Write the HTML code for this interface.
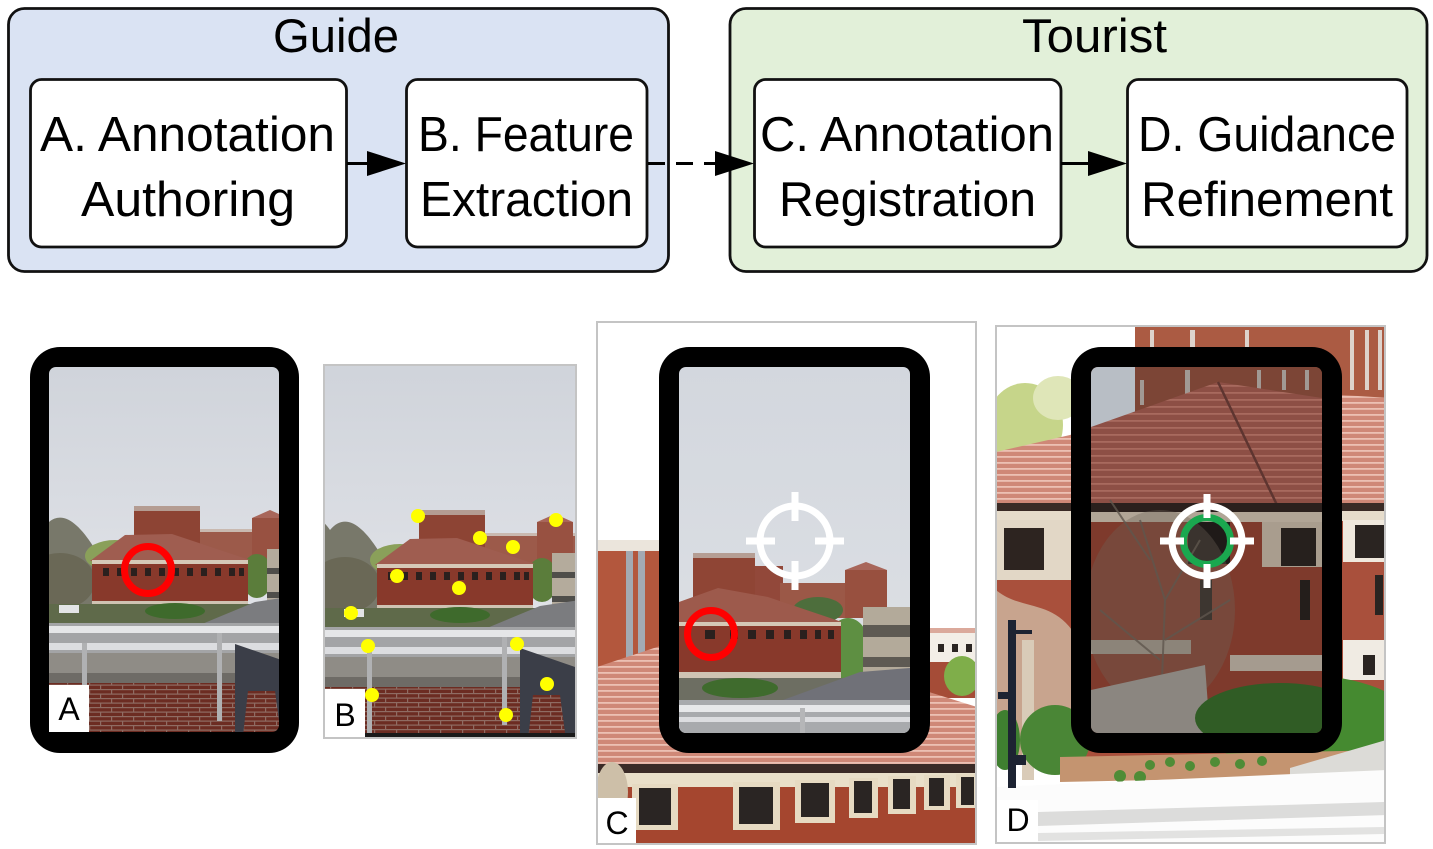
<!DOCTYPE html>
<html><head><meta charset="utf-8">
<style>html,body{margin:0;padding:0;background:#fff;overflow:hidden}svg{display:block}</style>
</head><body>
<svg xmlns="http://www.w3.org/2000/svg" xmlns:xlink="http://www.w3.org/1999/xlink" width="1433" height="849" viewBox="0 0 1433 849" font-family="'Liberation Sans', Arial, sans-serif">
<defs>
<clipPath id="cA"><rect x="49" y="367" width="230" height="365" rx="7"/></clipPath>
<clipPath id="cB"><rect x="325" y="366" width="250" height="371"/></clipPath>
<clipPath id="cC"><rect x="598" y="323" width="377" height="520"/></clipPath>
<clipPath id="cCs"><rect x="679" y="367" width="231" height="366" rx="7"/></clipPath>
<clipPath id="cD"><rect x="997" y="327" width="387" height="515"/></clipPath>
<clipPath id="cDs"><rect x="1091" y="367" width="231" height="366" rx="7"/></clipPath>
<linearGradient id="sky" x1="0" y1="0" x2="0" y2="1"><stop offset="0" stop-color="#cfd3da"/><stop offset="1" stop-color="#e1e3e8"/></linearGradient>
<linearGradient id="sky2" x1="0" y1="0" x2="0" y2="1"><stop offset="0" stop-color="#d3d7de"/><stop offset="1" stop-color="#dee1e5"/></linearGradient>
<pattern id="brick" width="22" height="9" patternUnits="userSpaceOnUse">
<rect width="22" height="9" fill="#6c2c22"/><rect width="22" height="1.2" fill="#8f6c63"/><rect y="4.5" width="22" height="1.2" fill="#8f6c63"/><rect width="1.2" height="4.5" fill="#8f6c63"/><rect x="11" y="4.5" width="1.2" height="4.5" fill="#8f6c63"/>
</pattern>
<pattern id="tiles" width="12" height="6" patternUnits="userSpaceOnUse"><rect width="12" height="6" fill="#cf8877"/><rect width="12" height="1.8" fill="#ecc0b3"/></pattern>
<pattern id="tilesD" width="12" height="7" patternUnits="userSpaceOnUse"><rect width="12" height="7" fill="#8d4f45"/><rect width="12" height="1.8" fill="#a86a5e"/></pattern>
<g id="sceneAB">
<rect x="280" y="355" width="320" height="275" fill="url(#sky)"/>
<path d="M280,520 C300,505 320,515 330,530 C345,512 362,525 378,550 L385,630 L280,630Z" fill="#78786a"/>
<ellipse cx="400" cy="560" rx="30" ry="16" fill="#8aa05a"/>
<ellipse cx="345" cy="585" rx="35" ry="28" fill="#6a6856"/>
<rect x="419" y="510" width="66" height="55" fill="#8d4434"/>
<rect x="419" y="510" width="66" height="5" fill="#b49c92"/>
<rect x="485" y="533" width="92" height="32" fill="#9c5a4a"/>
<rect x="485" y="533" width="92" height="3" fill="#c9b9b0"/>
<rect x="537" y="522" width="36" height="43" fill="#985141"/>
<polygon points="537,522 555,514 573,522" fill="#a8665a"/>
<ellipse cx="542" cy="580" rx="16" ry="22" fill="#5b7d3b"/>
<rect x="552" y="553" width="28" height="72" fill="#b4ab9c"/>
<rect x="552" y="572" width="28" height="6" fill="#4f4e4a"/>
<rect x="552" y="596" width="28" height="6" fill="#4f4e4a"/>
<polygon points="375,565 410,539 457,538 535,564" fill="#9f5d50"/>
<rect x="377" y="564" width="156" height="46" fill="#88392b"/>
<rect x="377" y="564" width="156" height="4" fill="#d6c9b8"/>
<rect x="377" y="605" width="156" height="5" fill="#cfc3b3"/>
<g fill="#2a201e"><rect x="388" y="572" width="6" height="8"/><rect x="402" y="572" width="6" height="8"/><rect x="416" y="572" width="6" height="8"/><rect x="430" y="572" width="6" height="8"/><rect x="444" y="572" width="6" height="8"/><rect x="458" y="572" width="6" height="8"/><rect x="472" y="572" width="6" height="8"/><rect x="486" y="572" width="6" height="8"/><rect x="500" y="572" width="6" height="8"/><rect x="514" y="572" width="6" height="8"/><rect x="524" y="572" width="5" height="8"/></g>
<rect x="280" y="608" width="320" height="22" fill="#5f6a4a"/>
<polygon points="487,628 540,606 580,600 580,628" fill="#7b7c7f"/>
<ellipse cx="460" cy="615" rx="30" ry="8" fill="#3e6a2c"/>
<rect x="344" y="609" width="20" height="8" fill="#e3e4e6"/>
<rect x="280" y="627" width="320" height="30" fill="#a3a4a6"/>
<rect x="280" y="630" width="320" height="7" fill="#e5e6e8"/>
<rect x="280" y="647" width="320" height="7" fill="#dcdde0"/>
<rect x="280" y="657" width="320" height="21" fill="#8f8c86"/>
<rect x="280" y="677" width="320" height="10" fill="#6e6b66"/>
<rect x="280" y="687" width="320" height="55" fill="url(#brick)"/>
<rect x="367" y="647" width="5" height="90" fill="#b0b1b3"/>
<rect x="502" y="637" width="5" height="88" fill="#b0b1b3"/>
<polygon points="520,648 578,668 578,740 566,740 560,695 533,695 528,740 520,740" fill="#3b3e48"/>
</g>
</defs>

<!-- ===== Top diagram ===== -->
<rect x="8.5" y="8.5" width="660" height="263" rx="16" fill="#dae3f3" stroke="#111" stroke-width="2.8"/>
<rect x="730" y="8.5" width="697" height="263" rx="16" fill="#e2f0d9" stroke="#111" stroke-width="2.8"/>
<text x="273" y="52" font-size="47" textLength="126" lengthAdjust="spacingAndGlyphs">Guide</text>
<text x="1022" y="52" font-size="47" textLength="145" lengthAdjust="spacingAndGlyphs">Tourist</text>

<rect x="30.5" y="79.5" width="316" height="167.5" rx="11" fill="#fff" stroke="#111" stroke-width="2.8"/>
<rect x="406.5" y="79.5" width="240.5" height="167.5" rx="11" fill="#fff" stroke="#111" stroke-width="2.8"/>
<rect x="754.5" y="79.5" width="306.5" height="167.5" rx="11" fill="#fff" stroke="#111" stroke-width="2.8"/>
<rect x="1127.5" y="79.5" width="279.5" height="167.5" rx="11" fill="#fff" stroke="#111" stroke-width="2.8"/>

<g font-size="49" fill="#000">
<text x="40" y="151" textLength="295" lengthAdjust="spacingAndGlyphs">A. Annotation</text>
<text x="81" y="216" textLength="214" lengthAdjust="spacingAndGlyphs">Authoring</text>
<text x="418" y="151" textLength="216" lengthAdjust="spacingAndGlyphs">B. Feature</text>
<text x="420" y="216" textLength="213" lengthAdjust="spacingAndGlyphs">Extraction</text>
<text x="760" y="151" textLength="294" lengthAdjust="spacingAndGlyphs">C. Annotation</text>
<text x="779" y="216" textLength="257" lengthAdjust="spacingAndGlyphs">Registration</text>
<text x="1138" y="151" textLength="258" lengthAdjust="spacingAndGlyphs">D. Guidance</text>
<text x="1141" y="216" textLength="252" lengthAdjust="spacingAndGlyphs">Refinement</text>
</g>

<line x1="347" y1="163.5" x2="370" y2="163.5" stroke="#000" stroke-width="3"/>
<polygon points="367,151 406,163.5 367,176" fill="#000"/>
<line x1="648" y1="163.5" x2="716" y2="163.5" stroke="#000" stroke-width="3" stroke-dasharray="17 11"/>
<polygon points="715,151 754,163.5 715,176" fill="#000"/>
<line x1="1061" y1="163.5" x2="1091" y2="163.5" stroke="#000" stroke-width="3"/>
<polygon points="1088,151 1127,163.5 1088,176" fill="#000"/>

<!-- ===== Panel A ===== -->
<rect x="30" y="347" width="269" height="406" rx="30" fill="#000"/>
<g clip-path="url(#cA)"><use xlink:href="#sceneAB" href="#sceneAB" transform="translate(-285,-4)"/></g>
<circle cx="148" cy="570" r="23.5" fill="none" stroke="#ff0000" stroke-width="7"/>
<rect x="49" y="685" width="40" height="47" fill="#fff"/>
<text x="69" y="720" font-size="32" text-anchor="middle">A</text>

<!-- ===== Panel B ===== -->
<rect x="324" y="365" width="252" height="373" fill="#fff" stroke="#c4c4c4" stroke-width="2"/>
<g clip-path="url(#cB)"><use xlink:href="#sceneAB" href="#sceneAB"/>
<rect x="325" y="733" width="250" height="4" fill="#1a1a1a"/></g>
<g fill="#ffff00">
<circle cx="418" cy="516" r="7"/><circle cx="556" cy="520" r="7"/><circle cx="480" cy="538" r="7"/><circle cx="513" cy="547" r="7"/>
<circle cx="397" cy="576" r="7"/><circle cx="459" cy="588" r="7"/><circle cx="351" cy="613" r="7"/><circle cx="368" cy="646" r="7"/>
<circle cx="517" cy="644" r="7"/><circle cx="372" cy="695" r="7"/><circle cx="547" cy="684" r="7"/><circle cx="506" cy="715" r="7"/>
</g>
<rect x="325" y="689" width="40" height="48" fill="#fff"/>
<text x="345" y="726" font-size="32" text-anchor="middle">B</text>

<!-- ===== Panel C ===== -->
<rect x="597" y="322" width="379" height="522" fill="#fff" stroke="#c4c4c4" stroke-width="2"/>
<g clip-path="url(#cC)">
<rect x="597" y="540" width="65" height="140" fill="#b3573d"/>
<rect x="597" y="540" width="65" height="11" fill="#ebe5dc"/>
<rect x="626" y="551" width="7" height="110" fill="#a3aab3"/>
<rect x="638" y="551" width="7" height="110" fill="#a3aab3"/>
<rect x="928" y="628" width="50" height="70" fill="#f3eee7"/>
<rect x="928" y="628" width="50" height="5" fill="#dba99b"/>
<rect x="938" y="644" width="6" height="8" fill="#2b2522"/><rect x="952" y="644" width="6" height="8" fill="#2b2522"/><rect x="966" y="644" width="6" height="8" fill="#2b2522"/>
<rect x="928" y="662" width="50" height="36" fill="#a54c37"/>
<ellipse cx="962" cy="676" rx="18" ry="20" fill="#7fae4a"/>
<polygon points="597,667 660,646 700,640 929,692 980,708 980,767 597,767" fill="url(#tiles)"/>
<rect x="597" y="764" width="383" height="9" fill="#3b2b27"/>
<rect x="597" y="773" width="383" height="72" fill="#a5462f"/>
<rect x="597" y="773" width="383" height="14" fill="#e9dfc9"/>
<g fill="#e6dac2"><rect x="632" y="784" width="46" height="46"/><rect x="733" y="782" width="47" height="48"/><rect x="795" y="780" width="40" height="43"/><rect x="849" y="778" width="29" height="40"/><rect x="888" y="776" width="28" height="38"/><rect x="924" y="775" width="26" height="35"/><rect x="956" y="774" width="22" height="34"/></g>
<g fill="#2a2523"><rect x="639" y="788" width="32" height="37"/><rect x="739" y="787" width="34" height="37"/><rect x="801" y="783" width="28" height="34"/><rect x="854" y="781" width="18" height="32"/><rect x="893" y="779" width="17" height="30"/><rect x="929" y="778" width="15" height="28"/><rect x="961" y="777" width="13" height="28"/></g>
<ellipse cx="612" cy="792" rx="16" ry="30" fill="#cdbfa8"/>
</g>
<rect x="659" y="347" width="271" height="406" rx="30" fill="#000"/>
<g clip-path="url(#cCs)">
<rect x="679" y="367" width="231" height="366" fill="url(#sky2)"/>
<rect x="693" y="553" width="62" height="50" fill="#8f4535"/>
<rect x="693" y="553" width="62" height="5" fill="#b59e94"/>
<rect x="755" y="566" width="28" height="40" fill="#92483a"/>
<rect x="780" y="583" width="105" height="35" fill="#9b5847"/>
<rect x="845" y="570" width="42" height="48" fill="#98503f"/>
<polygon points="845,570 866,562 887,570" fill="#a8665a"/>
<ellipse cx="818" cy="610" rx="25" ry="13" fill="#4d6e3c"/>
<ellipse cx="848" cy="650" rx="22" ry="32" fill="#5e8f42"/>
<polygon points="679,602 718,588 768,597 842,622 679,624" fill="#9d5a4c"/>
<rect x="679" y="622" width="162" height="56" fill="#88392b"/>
<rect x="679" y="622" width="162" height="4" fill="#d5c8b6"/>
<rect x="679" y="672" width="162" height="6" fill="#cfc3b3"/>
<g fill="#2a201e"><rect x="705" y="630" width="10" height="9"/><rect x="730" y="630" width="8" height="9"/><rect x="748" y="630" width="8" height="9"/><rect x="766" y="630" width="8" height="9"/><rect x="784" y="630" width="7" height="9"/><rect x="800" y="630" width="7" height="9"/><rect x="815" y="630" width="6" height="9"/><rect x="828" y="630" width="6" height="9"/></g>
<rect x="863" y="607" width="50" height="88" fill="#b3aa9a"/>
<rect x="863" y="625" width="50" height="12" fill="#5e5a53"/>
<rect x="863" y="657" width="50" height="10" fill="#5e5a53"/>
<rect x="679" y="678" width="231" height="25" fill="#6d6e62"/>
<polygon points="783,700 860,672 910,668 910,700" fill="#707178"/>
<ellipse cx="740" cy="688" rx="38" ry="10" fill="#3f6b2d"/>
<rect x="679" y="700" width="231" height="33" fill="#a8aaad"/>
<rect x="679" y="705" width="231" height="7" fill="#e7e8ea"/>
<rect x="679" y="717" width="231" height="5" fill="#dcdde0"/>
<rect x="800" y="708" width="5" height="25" fill="#b5b6b8"/>
</g>
<g fill="#fff">
<circle cx="795" cy="541" r="35" fill="none" stroke="#fff" stroke-width="7"/>
<rect x="746" y="537.5" width="29" height="7"/><rect x="815" y="537.5" width="29" height="7"/>
<rect x="791.5" y="492" width="7" height="29"/><rect x="791.5" y="561" width="7" height="29"/>
</g>
<circle cx="711" cy="634" r="23.5" fill="none" stroke="#ff0000" stroke-width="7"/>
<rect x="598" y="798" width="38" height="45" fill="#fff"/>
<text x="617" y="834" font-size="32" text-anchor="middle">C</text>

<!-- ===== Panel D ===== -->
<rect x="996" y="326" width="389" height="517" fill="#fff" stroke="#c4c4c4" stroke-width="2"/>
<g clip-path="url(#cD)">
<ellipse cx="1025" cy="425" rx="38" ry="42" fill="#c6d58a"/>
<ellipse cx="1058" cy="398" rx="25" ry="22" fill="#dfe6b8"/>
<rect x="1135" y="326" width="255" height="80" fill="#ab5b43"/>
<g fill="#ddd3cc"><rect x="1150" y="330" width="4" height="40"/><rect x="1190" y="330" width="5" height="45"/><rect x="1245" y="330" width="4" height="30"/><rect x="1350" y="330" width="4" height="60"/><rect x="1365" y="330" width="4" height="60"/><rect x="1378" y="330" width="4" height="60"/></g>
<polygon points="996,452 1070,435 1218,382 1342,395 1390,398 1390,506 996,506" fill="url(#tiles)"/>
<rect x="996" y="503" width="394" height="8" fill="#3a2b26"/>
<rect x="996" y="511" width="394" height="250" fill="#a9503c"/>
<rect x="996" y="511" width="394" height="10" fill="#e6dccb"/>
<rect x="1343" y="520" width="45" height="42" fill="#efe8dd"/>
<rect x="1355" y="525" width="30" height="33" fill="#2a2421"/>
<rect x="1375" y="575" width="8" height="40" fill="#2a2421"/>
<rect x="1343" y="640" width="45" height="40" fill="#f0ebe3"/>
<rect x="1363" y="655" width="12" height="20" fill="#2a2421"/>
<rect x="996" y="520" width="76" height="60" fill="#e2d7c6"/>
<rect x="1004" y="528" width="40" height="42" fill="#2d2420"/>
<path d="M996,590 C1020,610 1050,600 1072,630 L1072,760 L996,760Z" fill="#d6c7b0" opacity="0.7"/>
<rect x="1022" y="640" width="12" height="140" fill="#d9cbb8"/>
<ellipse cx="1055" cy="740" rx="35" ry="35" fill="#4a8636"/>
<ellipse cx="1005" cy="740" rx="15" ry="30" fill="#3f7f30"/>
<ellipse cx="1300" cy="720" rx="110" ry="45" fill="#458a30"/>
<polygon points="1060,757 1390,750 1390,775 1060,782" fill="#c49470"/>
<g fill="#4f8c36"><circle cx="1150" cy="765" r="5"/><circle cx="1170" cy="762" r="5"/><circle cx="1190" cy="766" r="5"/><circle cx="1215" cy="762" r="5"/><circle cx="1240" cy="764" r="5"/><circle cx="1262" cy="761" r="5"/><circle cx="1120" cy="776" r="6"/><circle cx="1140" cy="777" r="6"/></g>
<polygon points="1290,768 1386,740 1386,772 1290,776" fill="#dcdbd7"/>
<polygon points="996,787 1386,770 1386,843 996,843" fill="#fcfcfc"/>
<polygon points="1038,812 1386,802 1386,815 1038,826" fill="#dcdcdb"/>
<polygon points="1038,833 1386,827 1386,834 1038,841" fill="#e2e2e1"/>
<rect x="1008" y="620" width="8" height="168" fill="#1d2332"/>
<rect x="1016" y="630" width="16" height="4" fill="#1d2332"/>
<rect x="998" y="692" width="14" height="7" fill="#1d2332"/>
<rect x="1016" y="755" width="10" height="10" fill="#1d2332"/>
</g>
<rect x="1071" y="347" width="271" height="406" rx="30" fill="#000"/>
<g clip-path="url(#cDs)">
<rect x="1091" y="367" width="231" height="366" fill="#7e3a2c"/>
<rect x="1091" y="367" width="44" height="70" fill="#b8bec5"/>
<rect x="1135" y="367" width="187" height="60" fill="#7c4536"/>
<g fill="#a19994"><rect x="1140" y="380" width="4" height="25"/><rect x="1185" y="370" width="5" height="25"/><rect x="1257" y="370" width="4" height="20"/><rect x="1282" y="370" width="4" height="20"/><rect x="1305" y="370" width="4" height="20"/></g>
<polygon points="1091,427 1218,382 1322,398 1322,506 1091,506" fill="url(#tilesD)"/>
<line x1="1218" y1="382" x2="1277" y2="505" stroke="#5e3530" stroke-width="2.5"/>
<rect x="1091" y="503" width="231" height="9" fill="#2b201d"/>
<rect x="1091" y="512" width="231" height="10" fill="#b1a596"/>
<rect x="1262" y="522" width="60" height="45" fill="#a99d8e"/>
<rect x="1281" y="528" width="35" height="38" fill="#26201d"/>
<rect x="1188" y="522" width="42" height="42" fill="#1f1a18"/>
<rect x="1200" y="580" width="12" height="40" fill="#241e1b"/>
<rect x="1300" y="580" width="10" height="40" fill="#241e1b"/>
<rect x="1230" y="655" width="92" height="16" fill="#a59b8f"/>
<rect x="1091" y="640" width="100" height="14" fill="#9d958b"/>
<ellipse cx="1160" cy="610" rx="75" ry="100" fill="#6e6459" opacity="0.35"/>
<g stroke="#5f564d" stroke-width="2" fill="none" opacity="0.8">
<path d="M1160,733 L1165,600 L1140,520 M1165,600 L1200,540 M1150,560 L1110,500 M1165,640 L1230,600 M1160,660 L1100,610"/>
</g>
<polygon points="1091,690 1205,665 1210,733 1091,733" fill="#8b8680"/>
<ellipse cx="1280" cy="718" rx="85" ry="35" fill="#305c25"/>
</g>
<circle cx="1207" cy="541" r="35" fill="none" stroke="#fff" stroke-width="7"/>
<circle cx="1207" cy="541" r="23.5" fill="none" stroke="#1aa84f" stroke-width="7"/>
<g fill="#fff">
<rect x="1160" y="537.5" width="24" height="7"/><rect x="1230" y="537.5" width="24" height="7"/>
<rect x="1203.5" y="494" width="7" height="24"/><rect x="1203.5" y="564" width="7" height="24"/>
</g>
<rect x="997" y="800" width="41" height="42" fill="#fff"/>
<text x="1018" y="831" font-size="32" text-anchor="middle">D</text>
</svg>
</body></html>
